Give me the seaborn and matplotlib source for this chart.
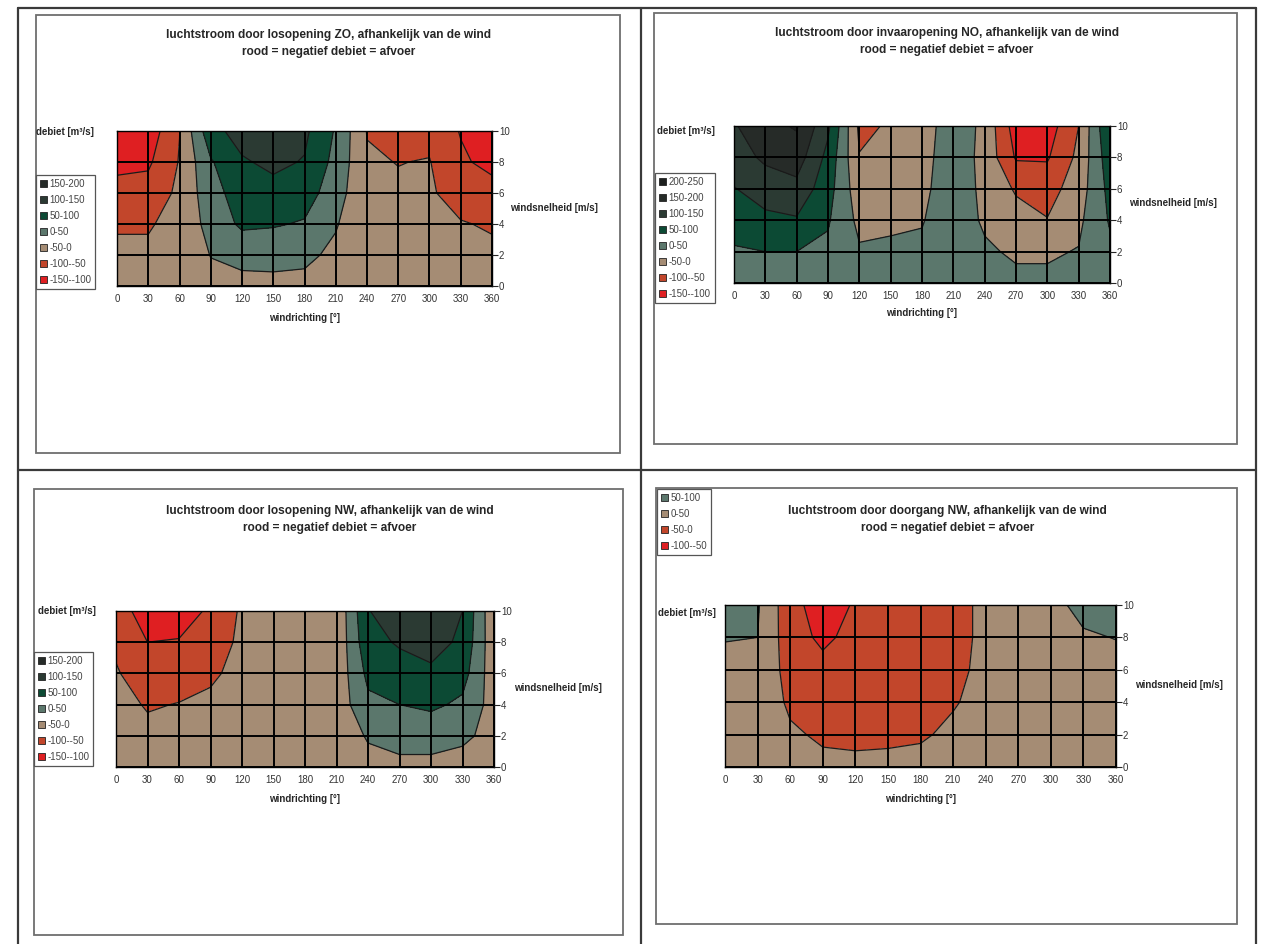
import numpy as np
import seaborn as sns
import matplotlib.pyplot as plt
from matplotlib.patches import Patch, Rectangle
from matplotlib.lines import Line2D

# grid of the measurements
windrichting = [0, 30, 60, 90, 120, 150, 180, 210, 240, 270, 300, 330, 360]
windsnelheid = [0, 2, 4, 6, 8, 10]

# debiet [m3/s], one row per windsnelheid (0, 2, 4, 6, 8, 10 m/s)
debiet_zo = [
    [-20, -20, -15, -10, -10, -10, -10, -15, -15, -15, -15, -20, -20],
    [-40, -40, -25, 1, 10, 12, 8, -8, -22, -25, -25, -35, -40],
    [-55, -55, -32, 15, 60, 55, 45, 3, -30, -35, -35, -47, -55],
    [-80, -80, -40, 30, 75, 85, 75, 20, -38, -44, -44, -70, -80],
    [-115, -108, -47, 45, 95, 110, 97, 35, -45, -51, -48, -92, -115],
    [-140, -130, -51, 85, 118, 125, 110, 45, -52, -65, -62, -103, -140],
]
debiet_no = [
    [20, 25, 25, 20, 10, 10, 10, 15, 10, 8, 8, 10, 20],
    [45, 50, 50, 40, 5, 5, 6, 15, 5, -5, -5, 2, 40],
    [70, 90, 95, 55, -12, -5, -2, 20, -5, -30, -48, -10, 55],
    [98, 120, 135, 70, -30, -20, -10, 25, -10, -56, -70, -25, 65],
    [125, 160, 175, 85, -48, -32, -18, 30, -15, -105, -105, -38, 80],
    [145, 185, 205, 110, -60, -45, -25, 30, -12, -125, -125, -50, 100],
]
debiet_nw = [
    [-10, -15, -15, -15, -10, -10, -10, -10, -10, -10, -10, -10, -10],
    [-20, -35, -30, -25, -18, -15, -15, -20, 3, 15, 15, 5, -8],
    [-30, -55, -48, -40, -25, -20, -18, -30, 39, 50, 60, 40, -20],
    [-45, -80, -75, -58, -35, -25, -22, -35, 62, 80, 90, 70, -30],
    [-60, -100, -98, -75, -40, -30, -25, -40, 85, 105, 120, 90, -35],
    [-75, -125, -115, -95, -42, -30, -25, -42, 98, 125, 140, 100, -40],
]
debiet_doorgang = [
    [10, 10, 8, 8, 8, 8, 8, 10, 10, 10, 10, 10, 10],
    [15, 15, 5, -5, -8, -6, -3, 5, 8, 10, 12, 15, 15],
    [25, 25, -6, -20, -20, -18, -15, -2, 8, 12, 15, 25, 25],
    [38, 38, -18, -35, -30, -28, -25, -8, 8, 15, 22, 38, 38],
    [52, 50, -28, -60, -35, -33, -30, -12, 8, 20, 30, 46, 51],
    [65, 55, -32, -75, -45, -38, -35, -15, 10, 25, 40, 60, 65],
]

levels_zo = [-150, -100, -50, 0, 50, 100, 150, 200]
levels_no = [-150, -100, -50, 0, 50, 100, 150, 200, 250]
levels_nw = [-150, -100, -50, 0, 50, 100, 150, 200]
levels_doorgang = [-100, -50, 0, 50, 100]

titels = [
    'luchtstroom door losopening ZO, afhankelijk van de wind',
    'luchtstroom door invaaropening NO, afhankelijk van de wind',
    'luchtstroom door losopening NW, afhankelijk van de wind',
    'luchtstroom door doorgang NW, afhankelijk van de wind',
]
ondertitel = 'rood = negatief debiet = afvoer'

# Excel colours the bands from the lowest one up
band_kleuren = ['#df1f22', '#c2462b', '#a58c74', '#5b776c', '#0c4a34',
                '#2b3a33', '#262b28', '#1c201e']

sns.set_theme(style='white')
plt.rcParams['font.family'] = ['Liberation Sans', 'DejaVu Sans']

W, H = 1263, 944
fig = plt.figure(figsize=(W / 100, H / 100), dpi=100)


def fx(px):
    return px / W


def fy(py):
    return 1 - py / H


# scanned page frame
for x0, y0, x1, y1 in [(18, 8, 1256, 8), (18, 8, 18, 944), (641, 8, 641, 944),
                       (1256, 8, 1256, 944), (18, 470, 1256, 470)]:
    fig.add_artist(Line2D([fx(x0), fx(x1)], [fy(y0), fy(y1)], color='#3a3a3a', lw=1.6))

panels = [
    # data, levels, box, plot area, title y, legend pos, debiet pos, snelheid pos, xlabel y
    (debiet_zo, levels_zo, (36, 15, 620, 453), (117, 131, 492, 286), 35,
     (36, 175), (36, 132), (510, 208), 318),
    (debiet_no, levels_no, (654, 13, 1237, 444), (734, 126, 1110, 283), 33,
     (655, 173), (657, 131), (1129, 203), 313),
    (debiet_nw, levels_nw, (34, 489, 623, 935), (116, 611, 494, 767), 511,
     (34, 652), (38, 611), (514, 688), 799),
    (debiet_doorgang, levels_doorgang, (656, 488, 1237, 924), (725, 605, 1116, 767), 511,
     (657, 489), (658, 613), (1135, 685), 799),
]

for i, (data, levels, box, area, ty, lpos, dpos, spos, xly) in enumerate(panels):
    bx0, by0, bx1, by1 = box
    fig.add_artist(Rectangle((fx(bx0), fy(by1)), fx(bx1 - bx0), (by1 - by0) / H,
                             fill=False, edgecolor='#6e6e6e', lw=1.3))
    x0, y0, x1, y1 = area
    ax = fig.add_axes([fx(x0), fy(y1), fx(x1 - x0), (y1 - y0) / H])
    kleuren = band_kleuren[:len(levels) - 1]
    z = np.array(data, dtype=float)
    ax.contourf(windrichting, windsnelheid, z, levels=levels, colors=kleuren)
    ax.contour(windrichting, windsnelheid, z, levels=levels[1:-1],
               colors='#1a1a1a', linewidths=0.9, linestyles='solid')
    ax.set_xlim(0, 360)
    ax.set_ylim(0, 10)
    ax.set_xticks(windrichting)
    ax.set_yticks(windsnelheid)
    ax.grid(True, color='black', lw=1.4)
    ax.set_axisbelow(False)
    ax.yaxis.tick_right()
    ax.tick_params(axis='x', length=0, pad=6, labelsize=7, labelcolor='#333333')
    ax.tick_params(axis='y', length=4, width=0.8, pad=1, labelsize=7,
                   labelcolor='#333333', right=True, left=False, direction='out')
    for sp in ax.spines.values():
        sp.set_color('black')
        sp.set_linewidth(1.0)

    cx = (bx0 + bx1) / 2 + 1
    fig.text(fx(cx), fy(ty), titels[i], ha='center', va='center',
             fontsize=8.6, fontweight='bold')
    fig.text(fx(cx), fy(ty + 17), ondertitel, ha='center', va='center',
             fontsize=8.6, fontweight='bold')
    fig.text(fx((x0 + x1) / 2), fy(xly), 'windrichting [°]', ha='center', va='center',
             fontsize=7, fontweight='bold')
    fig.text(fx(dpos[0]), fy(dpos[1]), 'debiet [m³/s]', ha='left', va='center',
             fontsize=7, fontweight='bold')
    fig.text(fx(spos[0]), fy(spos[1]), 'windsnelheid [m/s]', ha='left', va='center',
             fontsize=7, fontweight='bold')

    handles = []
    for k in range(len(levels) - 2, -1, -1):
        handles.append(Patch(facecolor=kleuren[k], edgecolor='#222222', lw=0.6,
                             label=f'{levels[k]}-{levels[k + 1]}'))
    leg = fig.legend(handles=handles, loc='upper left',
                     bbox_to_anchor=(fx(lpos[0]), fy(lpos[1])),
                     bbox_transform=fig.transFigure, fontsize=7,
                     handlelength=0.7, handleheight=0.7, handletextpad=0.3,
                     labelspacing=0.62, borderpad=0.4, borderaxespad=0,
                     fancybox=False, frameon=True, framealpha=1)
    leg.get_frame().set_edgecolor('#555555')
    leg.get_frame().set_linewidth(0.9)
    for t in leg.get_texts():
        t.set_color('#444444')

fig.savefig('out.png', dpi=100, facecolor='white')
